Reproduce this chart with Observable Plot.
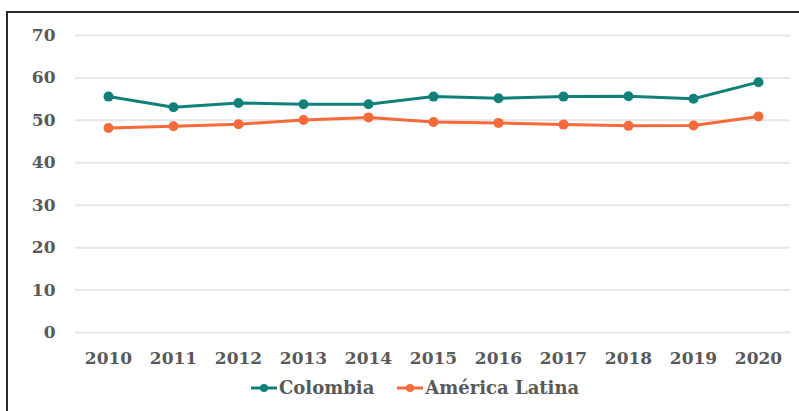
<!DOCTYPE html>
<html>
<head>
<meta charset="utf-8">
<script src="https://cdn.jsdelivr.net/npm/d3@7"></script>
<script src="https://cdn.jsdelivr.net/npm/@observablehq/plot@0.6"></script>
<style>
  html, body { margin: 0; padding: 0; background: #fff; width: 799px; height: 411px; overflow: hidden; }
  #frame { position: absolute; left: 6px; top: 11px; width: 900px; height: 500px;
           border-top: 2px solid #2b2b2b; border-left: 2px solid #2b2b2b; }
  #chart { position: absolute; left: 0; top: 0; }
  #chart svg text { font-family: "DejaVu Serif", serif !important; }
  #legend { position: absolute; left: 250px; top: 377px; display: flex; align-items: center;
            font-family: "DejaVu Serif", serif; font-weight: bold; font-size: 18px; color: #595959; }
  .item { display: flex; align-items: center; margin-right: 22px; }
  .item svg { margin-right: 1px; }
</style>
</head>
<body>
<div id="frame"></div>
<div id="chart"></div>
<div id="legend"></div>
<script>
const years = [2010, 2011, 2012, 2013, 2014, 2015, 2016, 2017, 2018, 2019, 2020];
const colombia = [55.6, 53.1, 54.1, 53.8, 53.8, 55.6, 55.2, 55.6, 55.7, 55.1, 59.0];
const americaLatina = [48.2, 48.6, 49.1, 50.1, 50.7, 49.6, 49.4, 49.0, 48.7, 48.8, 50.9];
const seriesNames = ["Colombia", "América Latina"];
const seriesColors = ["#12807a", "#f46a3b"];
const yTicks = [0, 10, 20, 30, 40, 50, 60, 70];

const seriesValues = [colombia, americaLatina];
const data = seriesNames.flatMap((name, s) =>
  years.map((year, i) => ({year, value: seriesValues[s][i], series: name})));

const chart = Plot.plot({
  width: 799,
  height: 372,
  marginLeft: 75,
  marginRight: 9,
  marginTop: 35,
  marginBottom: 40,
  style: {fontFamily: "'DejaVu Serif', serif", fontSize: "17px", fontWeight: "bold", color: "#595959", background: "transparent", overflow: "visible"},
  x: {type: "point", domain: years, padding: 0.5, label: null, tickSize: 0, tickPadding: 19, tickFormat: d => String(d)},
  y: {domain: [0, 70], ticks: yTicks, label: null, tickSize: 0, tickPadding: 20},
  color: {domain: seriesNames, range: seriesColors},
  marks: [
    Plot.ruleY(yTicks, {stroke: "#e6e6e6", strokeWidth: 2}),
    Plot.line(data, {x: "year", y: "value", z: "series", stroke: "series", strokeWidth: 3}),
    Plot.dot(data, {x: "year", y: "value", fill: "series", r: 5})
  ]
});
document.getElementById("chart").appendChild(chart);

const legend = document.getElementById("legend");
seriesNames.forEach((name, i) => {
  const item = document.createElement("div");
  item.className = "item";
  item.innerHTML = `<svg width="28" height="12"><line x1="1" x2="27" y1="6" y2="6" stroke="${seriesColors[i]}" stroke-width="3"/><circle cx="14" cy="6" r="4" fill="${seriesColors[i]}"/></svg><span>${name}</span>`;
  legend.appendChild(item);
});
</script>
</body>
</html>
